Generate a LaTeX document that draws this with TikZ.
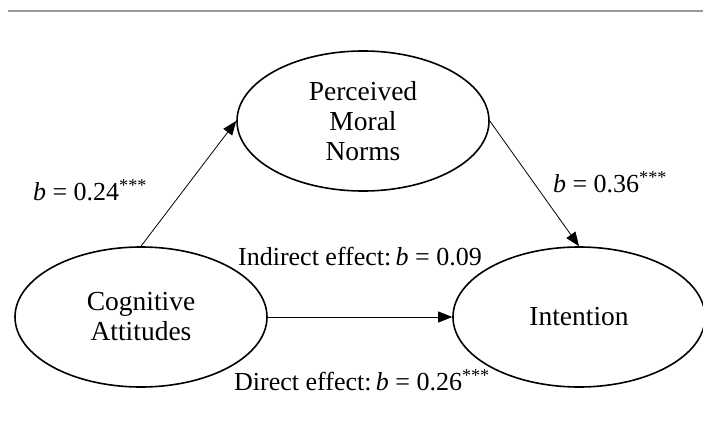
\documentclass[tikz,border=0pt]{standalone}
\usepackage{fontspec}
\setmainfont{Liberation Serif}
\usetikzlibrary{shapes.geometric,arrows.meta}

\begin{document}
\begin{tikzpicture}[x=1pt,y=-1pt,
    latent/.style={ellipse,draw=black,line width=1.6pt,minimum width=252pt,minimum height=140pt,
      inner sep=0pt,align=center,font=\fontsize{27.5}{30}\selectfont},
    effect/.style={-{Triangle[length=14pt,width=11pt]},line width=0.8pt},
    coef/.style={inner sep=0pt,font=\fontsize{26}{30}\selectfont}]
    \useasboundingbox (0,0) rectangle (703,425);
    \draw[gray!80,line width=1.5pt] (8,11) -- (703,11); % rule above the figure
    \node[latent] (norms) at (363,121) {Perceived\\Moral\\Norms};
    \node[latent] (cog)   at (141,317) {Cognitive\\Attitudes};
    \node[latent] (int)   at (579,317) {Intention};
    \draw[effect] (cog.north) -- (norms.west);
    \draw[effect] (norms.east) -- (int.north);
    \draw[effect] (cog.east) -- (int.west);
    \node[coef] (a)  at (90,190)  {\textit{b} = 0.24\textsuperscript{***}};
    \node[coef] (bb) at (610,182) {\textit{b} = 0.36\textsuperscript{***}};
    \node[coef] (ind) at (360,257) {Indirect effect:\,\textit{b} = 0.09};
    \node[coef] (dir) at (362,380) {Direct effect:\,\textit{b} = 0.26\textsuperscript{***}};
\end{tikzpicture}
\end{document}
